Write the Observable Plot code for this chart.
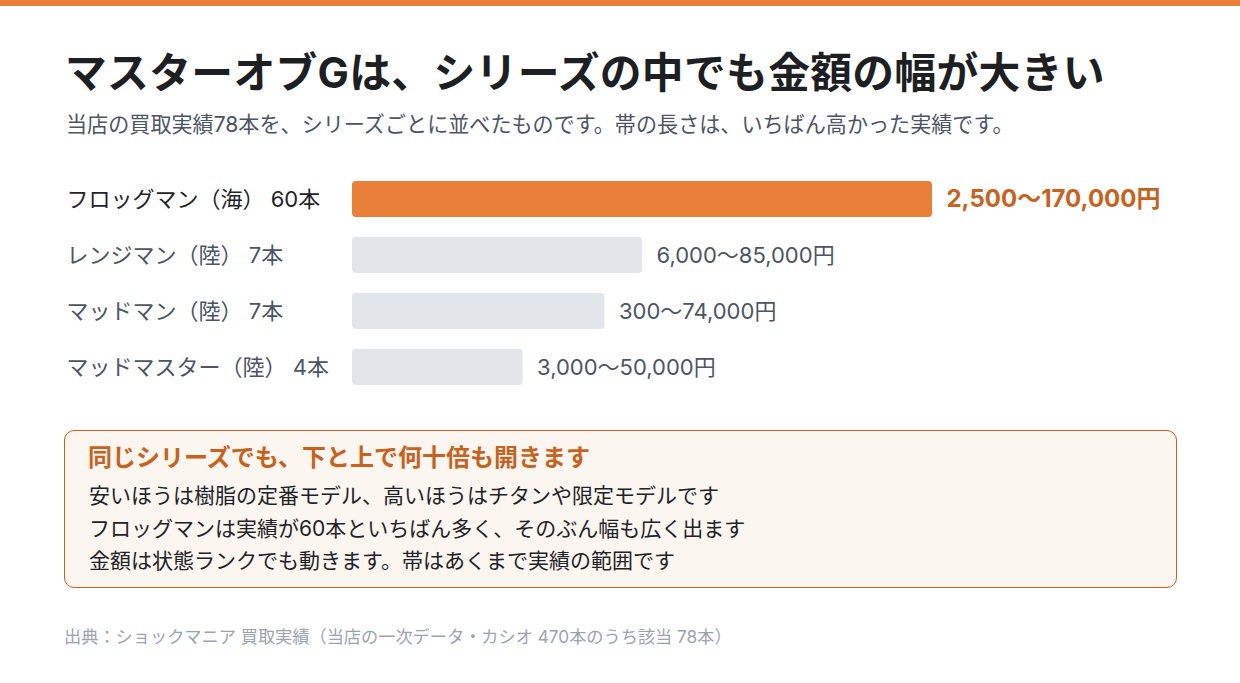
<!DOCTYPE html>
<html><head><meta charset="utf-8">
<script src="https://cdn.jsdelivr.net/npm/d3@7"></script>
<script src="https://cdn.jsdelivr.net/npm/@observablehq/plot@0.6"></script>
<style>
html,body{margin:0;padding:0;background:#fff;}
body{width:1240px;height:683px;position:relative;overflow:hidden;font-family:Inter,"Noto Sans CJK JP","Noto Sans",sans-serif;}
#topbar{position:absolute;left:0;top:0;width:1240px;height:6px;background:#E8803A;}
#title{position:absolute;left:65px;top:40px;font-size:41.8px;font-weight:700;color:#1d1f23;white-space:nowrap;letter-spacing:0.3px;}
#sub{position:absolute;left:66px;top:108px;font-size:21.1px;color:#4b5563;white-space:nowrap;}
#chart{position:absolute;left:0;top:161px;}
#note{position:absolute;left:64px;top:430px;width:1113px;height:158px;border:1.5px solid #C8621E;border-radius:10px;background:#FBF6F0;box-sizing:border-box;}
#note .h{position:absolute;left:23px;top:7px;font-size:24px;font-weight:700;color:#C8621E;white-space:nowrap;}
#note .l{position:absolute;left:24px;font-size:21px;color:#1f2328;white-space:nowrap;}
#src{position:absolute;left:64px;top:623px;font-size:17.2px;color:#9CA3AF;white-space:nowrap;}
</style></head>
<body>
<div id="topbar"></div>
<div id="title">マスターオブGは、シリーズの中でも金額の幅が大きい</div>
<div id="sub">当店の買取実績78本を、シリーズごとに並べたものです。帯の長さは、いちばん高かった実績です。</div>
<div id="chart"></div>
<div id="note">
  <div class="h">同じシリーズでも、下と上で何十倍も開きます</div>
  <div class="l" style="top:48px">安いほうは樹脂の定番モデル、高いほうはチタンや限定モデルです</div>
  <div class="l" style="top:81px">フロッグマンは実績が60本といちばん多く、そのぶん幅も広く出ます</div>
  <div class="l" style="top:113px">金額は状態ランクでも動きます。帯はあくまで実績の範囲です</div>
</div>
<div id="src">出典：ショックマニア 買取実績（当店の一次データ・カシオ 470本のうち該当 78本）</div>
<script>
const series = ["フロッグマン（海）", "レンジマン（陸）", "マッドマン（陸）", "マッドマスター（陸）"];
const counts = [60, 7, 7, 4];
const minPrice = [2500, 6000, 300, 3000];
const maxPrice = [170000, 85000, 74000, 50000];
const highlight = [true, false, false, false];

const fmt = d3.format(",");
const rows = series.map((s, i) => ({
  name: s,
  label: `${s} ${counts[i]}本`,
  min: minPrice[i],
  max: maxPrice[i],
  hi: highlight[i],
  range: `${fmt(minPrice[i])}〜${fmt(maxPrice[i])}円`
}));

const chart = Plot.plot({
  width: 1240,
  height: 244,
  marginLeft: 352,
  marginRight: 308,
  marginTop: 0,
  marginBottom: 0,
  x: {domain: [0, 170000], axis: null},
  y: {domain: series, padding: 0.357, axis: null},
  style: {fontFamily: 'Inter,"Noto Sans CJK JP","Noto Sans",sans-serif', background: "transparent"},
  marks: [
    Plot.barX(rows, {x: "max", y: "name", fill: d => d.hi ? "#E8803A" : "#E2E5E9", rx: 4}),
    Plot.text(rows, {y: "name", text: "label", frameAnchor: "left", textAnchor: "start", dx: -286,
      fill: d => d.hi ? "#1f2328" : "#4b5563", fontSize: 22}),
    Plot.text(rows.filter(d => !d.hi), {x: "max", y: "name", text: "range", textAnchor: "start", dx: 14,
      fill: "#4b5563", fontSize: 22}),
    Plot.text(rows.filter(d => d.hi), {x: "max", y: "name", text: "range", textAnchor: "start", dx: 14,
      fill: "#C8621E", fontWeight: 700, fontSize: 24, letterSpacing: 0.3})
  ]
});
document.getElementById("chart").append(chart);
</script>
</body></html>
